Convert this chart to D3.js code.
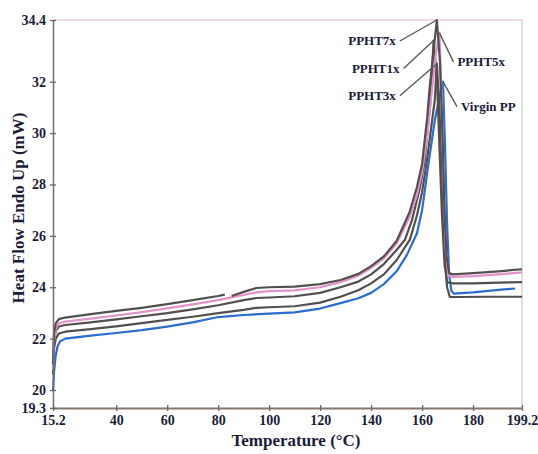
<!DOCTYPE html>
<html>
<head>
<meta charset="utf-8">
<script src="https://cdn.jsdelivr.net/npm/d3@7"></script>
<style>
  body { margin: 0; background: #fff; }
  text { font-family: "Liberation Serif", "Times New Roman", serif; font-weight: bold; }
</style>
</head>
<body>
<script>
// DSC curves, heat flow (mW) vs temperature (C)
var xTicks = [15.2, 40, 60, 80, 100, 120, 140, 160, 180, 199.2];
var yTicks = [19.3, 20, 22, 24, 26, 28, 30, 32, 34.4];

var ppht7x = [[15.2, 21.0], [15.6, 22.2], [16.3, 22.6], [17.5, 22.76], [20, 22.82], [30, 22.95],
  [40, 23.08], [50, 23.2], [60, 23.34], [70, 23.5], [80, 23.66], [82.6, 23.71], null,
  [85.3, 23.66], [90, 23.82], [95, 23.97], [100, 24.0], [110, 24.02], [120, 24.12], [128, 24.28],
  [135, 24.52], [140, 24.82], [145, 25.2], [150, 25.8], [155, 26.9], [158, 27.9], [160, 28.8],
  [162, 30.6], [163, 31.8], [164.5, 33.2], [165.8, 34.4], [167, 32.8], [168, 30.0], [168.8, 27.0],
  [169.6, 25.2], [170.6, 24.55], [172, 24.5], [180, 24.55], [190, 24.62], [199.2, 24.7]];

var ppht5x = [[15.2, 20.8], [15.6, 21.9], [16.3, 22.4], [17.5, 22.6], [20, 22.66], [30, 22.78],
  [40, 22.9], [50, 23.03], [60, 23.18], [70, 23.33], [80, 23.5], [90, 23.7], [95, 23.8],
  [100, 23.85], [110, 23.88], [120, 24.0], [128, 24.2], [135, 24.45], [140, 24.75], [145, 25.12],
  [150, 25.7], [155, 26.7], [158, 27.6], [160, 28.5], [162, 29.9], [163.5, 31.3], [165.3, 33.0],
  [166.8, 33.9], [167.6, 31.5], [168.4, 28.2], [169.3, 25.5], [170.3, 24.45], [172, 24.4],
  [180, 24.43], [190, 24.5], [199.2, 24.58]];

var ppht1x = [[15.2, 20.9], [15.6, 21.9], [16.3, 22.3], [17.5, 22.47], [20, 22.53], [30, 22.63],
  [40, 22.75], [50, 22.87], [60, 22.99], [70, 23.14], [80, 23.3], [90, 23.5], [95, 23.58],
  [100, 23.6], [110, 23.65], [120, 23.78], [128, 24.0], [135, 24.22], [140, 24.5], [145, 24.9],
  [150, 25.45], [153.3, 25.85], [156, 26.6], [159, 27.8], [161, 28.9], [163.5, 31.5], [164.5, 33.6],
  [165.8, 32.2], [166.8, 29.5], [167.8, 26.8], [168.8, 24.9], [169.8, 24.2], [172, 24.15],
  [180, 24.15], [190, 24.18], [199.2, 24.2]];

var ppht3x = [[15.2, 20.6], [15.6, 21.6], [16.3, 22.0], [17.5, 22.2], [20, 22.27], [30, 22.37],
  [40, 22.48], [50, 22.6], [60, 22.73], [70, 22.85], [80, 22.99], [90, 23.12], [95, 23.2],
  [100, 23.22], [110, 23.26], [120, 23.4], [128, 23.63], [135, 23.88], [140, 24.15], [145, 24.5],
  [150, 25.05], [155.2, 25.85], [158, 26.8], [160, 27.7], [162, 29.0], [165, 31.3], [165.8, 32.7],
  [166.8, 31.0], [167.8, 28.0], [168.8, 25.5], [169.8, 24.0], [170.9, 23.62], [175, 23.62],
  [185, 23.63], [199.2, 23.63]];

var virginPP = [[15.2, 19.95], [15.6, 20.7], [16.2, 21.3], [17, 21.7], [18, 21.9], [20, 22.0],
  [30, 22.12], [40, 22.22], [50, 22.33], [60, 22.47], [70, 22.63], [80, 22.84], [90, 22.92],
  [100, 22.97], [110, 23.02], [120, 23.17], [128, 23.38], [135, 23.57], [140, 23.78], [145, 24.12],
  [150, 24.62], [154, 25.25], [158, 26.1], [160, 27.0], [162.5, 28.8], [165, 30.5], [167, 31.5],
  [168.2, 32.0], [169, 29.5], [169.8, 26.5], [170.6, 24.5], [171.5, 23.85], [172.5, 23.75],
  [180, 23.8], [190, 23.9], [196.5, 23.95]];

var seriesNames = ['Virgin PP', 'PPHT3x', 'PPHT1x', 'PPHT5x', 'PPHT7x'];
var seriesData = [virginPP, ppht3x, ppht1x, ppht5x, ppht7x];
var seriesColors = ['#2b6cd0', '#52504e', '#52504e', '#e393c9', '#52504e'];

var width = 538, height = 454;
var margin = {top: 20, right: 16, bottom: 46, left: 53};

var svg = d3.select('body').append('svg')
  .attr('width', width)
  .attr('height', height)
  .style('background-color', '#fff');

var x = d3.scaleLinear().domain([15.2, 199.2]).range([margin.left, width - margin.right]);
var y = d3.scaleLinear().domain([19.3, 34.4]).range([height - margin.bottom, margin.top]);

// frame: top and right edges
svg.append('line')
  .attr('x1', x(15.2)).attr('x2', x(199.2))
  .attr('y1', y(34.4)).attr('y2', y(34.4))
  .attr('stroke', '#e6bcbc').attr('stroke-width', 1.2);
svg.append('line')
  .attr('x1', x(199.2)).attr('x2', x(199.2))
  .attr('y1', y(34.4)).attr('y2', y(19.3))
  .attr('stroke', '#c4cbcb').attr('stroke-width', 1.2);

var line = d3.line()
  .defined(function(d) { return d !== null; })
  .x(function(d) { return x(d[0]); })
  .y(function(d) { return y(d[1]); });

svg.selectAll('path.curve')
  .data(seriesData)
  .enter()
  .append('path')
  .attr('class', 'curve')
  .attr('d', line)
  .attr('fill', 'none')
  .attr('stroke', function(d, i) { return seriesColors[i]; })
  .attr('stroke-width', 2.2)
  .attr('stroke-linejoin', 'round');

// axes
var xAxis = svg.append('g')
  .attr('transform', 'translate(0,' + y(19.3) + ')')
  .call(d3.axisBottom(x).tickValues(xTicks).tickFormat(d3.format('')).tickSizeInner(3).tickSizeOuter(0).tickPadding(4));
xAxis.select('.domain').attr('stroke', '#85766e').attr('stroke-width', 2);
xAxis.selectAll('.tick line').attr('stroke', '#6f6a66').attr('y1', -3).attr('stroke-width', 1.3);
xAxis.selectAll('.tick text').attr('fill', '#1b1b38').style('font-size', '14px');

var yAxis = svg.append('g')
  .attr('transform', 'translate(' + x(15.2) + ',0)')
  .call(d3.axisLeft(y).tickValues(yTicks).tickFormat(d3.format('')).tickSizeInner(3).tickSizeOuter(0).tickPadding(4));
yAxis.select('.domain').attr('stroke', '#707070').attr('stroke-width', 1.5);
yAxis.selectAll('.tick line').attr('stroke', '#6f6a66').attr('x1', 3).attr('stroke-width', 1.3);
yAxis.selectAll('.tick text').attr('fill', '#1b1b38').style('font-size', '14px');

// axis titles
svg.append('text')
  .text('Temperature (\u00B0C)')
  .attr('x', 296)
  .attr('y', 446)
  .attr('text-anchor', 'middle')
  .attr('fill', '#1b1b38')
  .attr('font-size', 17);

svg.append('text')
  .text('Heat Flow Endo Up (mW)')
  .attr('transform', 'translate(24,' + 208 + ') rotate(-90)')
  .attr('text-anchor', 'middle')
  .attr('fill', '#1b1b38')
  .attr('font-size', 17);

// labels with leader lines to each peak
var labelSide = ['right', 'left', 'left', 'right', 'left'];
var labelDx = [14, -37, -30, 14, -37];
var labelDy = [25, 32, 28, 29, 21];

seriesData.forEach(function(s, i) {
  var peak = s.filter(function(d) { return d; })
    .reduce(function(a, b) { return b[1] > a[1] ? b : a; });
  var px = x(peak[0]), py = y(peak[1]);
  var lx = px + labelDx[i], ly = py + labelDy[i];
  svg.append('line')
    .attr('x1', px).attr('y1', py)
    .attr('x2', lx).attr('y2', ly)
    .attr('stroke', '#5a5a5a').attr('stroke-width', 1.4);
  svg.append('text')
    .text(seriesNames[i])
    .attr('x', labelSide[i] === 'left' ? lx - 4 : lx + 4)
    .attr('y', ly + 4)
    .attr('text-anchor', labelSide[i] === 'left' ? 'end' : 'start')
    .attr('fill', '#1b1b38')
    .attr('font-size', 13);
});
</script>
</body>
</html>
